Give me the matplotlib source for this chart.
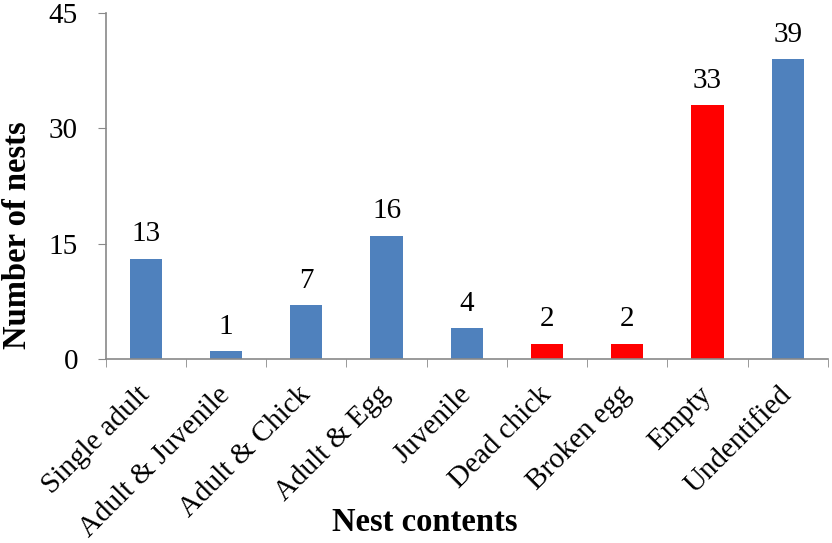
import matplotlib
matplotlib.use('Agg')
import matplotlib.pyplot as plt
import numpy as np

categories = ['Single adult', 'Adult & Juvenile', 'Adult & Chick', 'Adult & Egg',
              'Juvenile', 'Dead chick', 'Broken egg', 'Empty', 'Undentified']
counts = [13, 1, 7, 16, 4, 2, 2, 33, 39]
bar_colors = ['#4F81BD', '#4F81BD', '#4F81BD', '#4F81BD', '#4F81BD',
              '#FF0000', '#FF0000', '#FF0000', '#4F81BD']
y_ticks = [0, 15, 30, 45]

plt.rcParams['font.family'] = ['Liberation Serif', 'DejaVu Serif']

fig = plt.figure(figsize=(8.32, 5.43), dpi=100)
ax = fig.add_axes([0.127, 0.339, 0.868, 0.637])

x = np.arange(len(categories))
ax.bar(x, counts, width=0.4, color=bar_colors)
for xi, v in zip(x, counts):
    ax.text(xi, v + 1.5, str(v), ha='center', va='bottom', fontsize=21)

ax.set_xlim(-0.5, len(categories) - 0.5)
ax.set_ylim(0, 45)
ax.set_yticks(y_ticks)
ax.tick_params(axis='y', labelsize=21, length=6, pad=14, color='#898989', direction='out')

# category labels, ticks on the boundaries like Excel
ax.set_xticks(x)
ax.set_xticklabels(categories, rotation=45, ha='right', va='center',
                   rotation_mode='anchor', fontsize=21)
ax.tick_params(axis='x', which='major', length=0, pad=23)
ax.set_xticks(np.arange(len(categories) + 1) - 0.5, minor=True)
ax.tick_params(axis='x', which='minor', length=6, color='#898989', direction='out')

for s in ['top', 'right']:
    ax.spines[s].set_visible(False)
for s in ['left', 'bottom']:
    ax.spines[s].set_color('#898989')
    ax.spines[s].set_linewidth(1.2)

ax.set_ylabel('Number of nests', fontsize=23.5, fontweight='bold')
ax.yaxis.set_label_coords(-0.100, 0.358)
fig.text(0.511, 0.038, 'Nest contents', fontsize=23.5, fontweight='bold',
         ha='center', va='center')

fig.savefig('out.png', dpi=100)
